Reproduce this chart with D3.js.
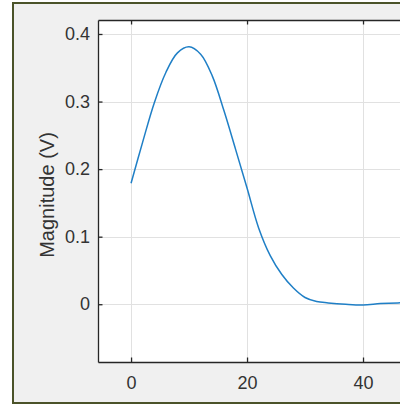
<!DOCTYPE html>
<html>
<head>
<meta charset="utf-8">
<script src="https://cdn.jsdelivr.net/npm/d3@7"></script>
<style>
  html, body { margin: 0; padding: 0; background: #fff; }
  svg { display: block; }
  text { font-family: "Liberation Sans", Arial, sans-serif; fill: #333; }
</style>
</head>
<body>
<div id="chart"></div>
<script>
// time samples and magnitude
var times = [0, 2, 4, 6, 8, 10, 12, 14, 16, 18, 20, 22, 24, 26, 28, 30, 32, 34, 37, 40, 43, 46, 50];
var magnitude = [0.179, 0.240, 0.298, 0.343, 0.372, 0.381, 0.370, 0.338, 0.287, 0.230, 0.172, 0.113,
  0.072, 0.044, 0.024, 0.010, 0.004, 0.002, 0.000, -0.001, 0.001, 0.002, 0.002];
var xTicks = [0, 20, 40];
var yTicks = [0, 0.1, 0.2, 0.3, 0.4];
var yLabel = 'Magnitude (V)';

var width = 400, height = 404;
var box = {left: 98, top: 20, right: 479, bottom: 362};
var tickLen = 4.5;

var svg = d3.select('#chart').append('svg')
  .attr('width', width)
  .attr('height', height);

// figure frame
svg.append('rect')
  .attr('x', 13).attr('y', 3)
  .attr('width', 520).attr('height', 400)
  .attr('fill', '#f0f0f0')
  .attr('stroke', '#4b5329')
  .attr('stroke-width', 2);

var x = d3.scaleLinear().domain([-5.7, 60]).range([box.left, box.right]);
var y = d3.scaleLinear().domain([-0.0855, 0.4207]).range([box.bottom, box.top]);

svg.append('rect')
  .attr('x', box.left).attr('y', box.top)
  .attr('width', box.right - box.left).attr('height', box.bottom - box.top)
  .attr('fill', '#fff');

svg.append('clipPath').attr('id', 'plot-clip')
  .append('rect')
  .attr('x', box.left).attr('y', box.top)
  .attr('width', box.right - box.left).attr('height', box.bottom - box.top);

// grid
var grid = svg.append('g').attr('stroke', '#e1e1e1').attr('stroke-width', 1);
grid.selectAll('.gx').data(xTicks).enter().append('line')
  .attr('x1', function(d){ return Math.round(x(d)) + 0.5; })
  .attr('x2', function(d){ return Math.round(x(d)) + 0.5; })
  .attr('y1', box.top).attr('y2', box.bottom);
grid.selectAll('.gy').data(yTicks).enter().append('line')
  .attr('y1', function(d){ return Math.round(y(d)) + 0.5; })
  .attr('y2', function(d){ return Math.round(y(d)) + 0.5; })
  .attr('x1', box.left).attr('x2', box.right);

// curve
var line = d3.line()
  .x(function(d, i){ return x(times[i]); })
  .y(function(d){ return y(d); })
  .curve(d3.curveCatmullRom.alpha(0.5));

svg.append('path')
  .datum(magnitude)
  .attr('clip-path', 'url(#plot-clip)')
  .attr('d', line)
  .attr('fill', 'none')
  .attr('stroke', '#1f7fc6')
  .attr('stroke-width', 1.5);

// axes: d3 axes with inward ticks
var axisColor = '#262626';
var xAxis = d3.axisBottom(x).tickValues(xTicks).tickSizeInner(-tickLen).tickSizeOuter(0)
  .tickPadding(14).tickFormat(d3.format('d'));
var gx = svg.append('g').attr('transform', 'translate(0,' + box.bottom + ')').call(xAxis);

var xTop = d3.axisTop(x).tickValues(xTicks).tickSizeInner(-tickLen).tickSizeOuter(0).tickFormat('');
var gxt = svg.append('g').attr('transform', 'translate(0,' + box.top + ')').call(xTop);

var yAxis = d3.axisLeft(y).tickValues(yTicks).tickSizeInner(-tickLen).tickSizeOuter(0)
  .tickPadding(8).tickFormat(function(d){ return d === 0 ? '0' : d3.format('.1f')(d); });
var gy = svg.append('g').attr('transform', 'translate(' + box.left + ',0)').call(yAxis);

[gx, gxt, gy].forEach(function(g){
  g.select('.domain').attr('stroke', axisColor).attr('stroke-width', 1.3);
  g.selectAll('.tick line').attr('stroke', axisColor).attr('stroke-width', 1.3);
  g.selectAll('.tick text')
    .attr('fill', '#444')
    .style('font-family', '"Liberation Sans", Arial, sans-serif')
    .style('font-size', '18px');
});

svg.append('text')
  .attr('transform', 'translate(54,' + 195 + ') rotate(-90)')
  .attr('text-anchor', 'middle')
  .style('font-size', '20px')
  .attr('fill', '#262626')
  .text(yLabel);
</script>
</body>
</html>
